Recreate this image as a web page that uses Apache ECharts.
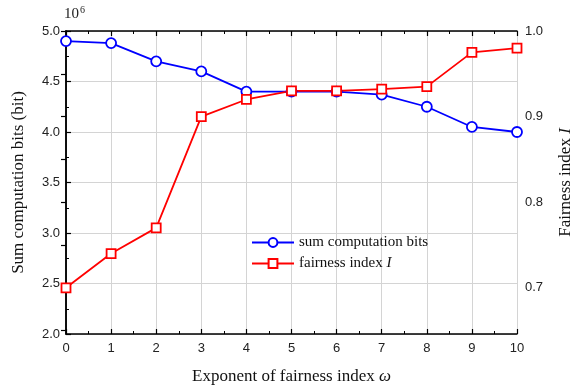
<!DOCTYPE html>
<html>
<head>
<meta charset="utf-8">
<script src="https://cdn.jsdelivr.net/npm/echarts@6/dist/echarts.min.js"></script>
<style>html,body{margin:0;padding:0;background:#fff}#c{width:574px;height:387px}</style>
</head>
<body>
<div id="c"></div>
<script>
const omega = [0, 1, 2, 3, 4, 5, 6, 7, 8, 9, 10];
const sumBits = [4.90, 4.88, 4.70, 4.60, 4.40, 4.40, 4.40, 4.37, 4.25, 4.05, 4.00];
const fairness = [0.700, 0.740, 0.770, 0.900, 0.920, 0.930, 0.930, 0.932, 0.935, 0.975, 0.980];
const leftTicks = [2.0, 2.5, 3.0, 3.5, 4.0, 4.5, 5.0];
const rightTicks = [0.7, 0.8, 0.9, 1.0];
const rightMinorTicks = [0.65, 0.7, 0.75, 0.8, 0.85, 0.9, 0.95, 1.0];

const chart = echarts.init(document.getElementById('c'), null, {renderer: 'canvas'});
const sans = 'Liberation Sans';
const serif = 'Liberation Serif';
const axisLine = {show: true, lineStyle: {color: '#000', width: 1.5}};

chart.setOption({
  animation: false,
  backgroundColor: '#fff',
  grid: {left: 66, right: 57, top: 31, bottom: 53, containLabel: false, outerBoundsMode: 'none'},
  graphic: [
    {type: 'text', left: 64, top: 7, style: {text: '10', font: '15px "Liberation Serif"', fill: '#222'}},
    {type: 'text', left: 80, top: 5, style: {text: '6', font: '10px "Liberation Serif"', fill: '#222'}}
  ],
  legend: {
    left: 246, top: 230, orient: 'vertical', itemGap: 6,
    itemWidth: 42, itemHeight: 11,
    textStyle: {fontFamily: serif, fontSize: 15, color: '#111',
      rich: {n: {fontFamily: serif, fontSize: 15, color: '#111'},
             i: {fontFamily: serif, fontSize: 15, fontStyle: 'italic', color: '#111'}}},
    formatter: function (name) {
      return name === 'fairness index I' ? '{n|fairness index }{i|I}' : name;
    },
    data: ['sum computation bits', 'fairness index I']
  },
  xAxis: [{
    type: 'value', min: 0, max: 10, interval: 1,
    axisLine: axisLine,
    axisTick: {inside: true, length: 5, lineStyle: {color: '#000', width: 1.2}},
    minorTick: {show: true, splitNumber: 2, length: 3, lineStyle: {color: '#000'}},
    axisLabel: {fontFamily: sans, fontSize: 13, color: '#222', margin: 8},
    splitLine: {show: true, lineStyle: {color: '#d4d4d4', width: 1}},
    name: '{n|Exponent of fairness index }{i|ω}',
    nameLocation: 'middle', nameGap: 34,
    nameTextStyle: {rich: {n: {fontFamily: serif, fontSize: 17, color: '#111'},
                           i: {fontFamily: serif, fontSize: 17, fontStyle: 'italic', color: '#111'}}}
  }, {
    type: 'value', position: 'top', min: 0, max: 10, interval: 1,
    axisLine: axisLine,
    axisTick: {inside: true, length: 5, lineStyle: {color: '#000', width: 1.2}},
    minorTick: {show: true, splitNumber: 2, length: 3, lineStyle: {color: '#000'}},
    axisLabel: {show: false}, splitLine: {show: false}
  }],
  yAxis: [{
    type: 'value', min: 2.0, max: 5.0, interval: 0.5,
    axisLine: axisLine,
    axisTick: {inside: true, length: 5, lineStyle: {color: '#000', width: 1.2}},
    minorTick: {show: true, splitNumber: 2, length: 3, lineStyle: {color: '#000'}},
    axisLabel: {fontFamily: sans, fontSize: 13, color: '#222', margin: 6,
      formatter: v => v.toFixed(1)},
    splitLine: {show: true, lineStyle: {color: '#d4d4d4', width: 1}},
    name: 'Sum computation bits (bit)', nameLocation: 'middle', nameGap: 39,
    nameTextStyle: {fontFamily: serif, fontSize: 17, color: '#111'}
  }, {
    type: 'value', position: 'right', min: 0.646, max: 1.0,
    axisLine: axisLine,
    axisTick: {show: true, inside: true, length: 5, customValues: rightMinorTicks.filter(v => v > 0.646),
      lineStyle: {color: '#000', width: 1.2}},
    axisLabel: {fontFamily: sans, fontSize: 13, color: '#222', margin: 8,
      customValues: rightTicks, formatter: v => v.toFixed(1)},
    splitLine: {show: false},
    name: '{n|Fairness index }{i|I}', nameLocation: 'middle', nameGap: 40, nameRotate: 90,
    nameTextStyle: {rich: {n: {fontFamily: serif, fontSize: 17, color: '#111'},
                           i: {fontFamily: serif, fontSize: 17, fontStyle: 'italic', color: '#111'}}}
  }],
  series: [{
    name: 'sum computation bits', type: 'line', xAxisIndex: 0, yAxisIndex: 0,
    data: omega.map((x, i) => [x, sumBits[i]]),
    symbol: 'circle', symbolSize: 10, showAllSymbol: true,
    lineStyle: {color: '#0000ff', width: 1.8},
    itemStyle: {color: '#fff', borderColor: '#0000ff', borderWidth: 1.8},
    emphasis: {disabled: true}
  }, {
    name: 'fairness index I', type: 'line', xAxisIndex: 0, yAxisIndex: 1,
    data: omega.map((x, i) => [x, fairness[i]]),
    symbol: 'rect', symbolSize: 9, showAllSymbol: true,
    lineStyle: {color: '#ff0000', width: 1.8},
    itemStyle: {color: '#fff', borderColor: '#ff0000', borderWidth: 1.8},
    emphasis: {disabled: true}
  }]
});
</script>
</body>
</html>
